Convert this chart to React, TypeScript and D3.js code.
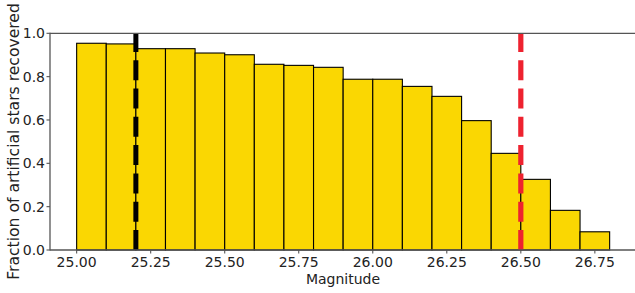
import React from "react";
import * as d3 from "d3";

const binStarts = [25.0, 25.1, 25.2, 25.3, 25.4, 25.5, 25.6, 25.7, 25.8, 25.9, 26.0, 26.1, 26.2, 26.3, 26.4, 26.5, 26.6, 26.7];
const fractions = [0.954, 0.951, 0.929, 0.929, 0.909, 0.901, 0.857, 0.852, 0.843, 0.788, 0.788, 0.755, 0.709, 0.597, 0.446, 0.326, 0.183, 0.084];
const binWidth = 0.1;
const xTicks = [25.0, 25.25, 25.5, 25.75, 26.0, 26.25, 26.5, 26.75];
const yTicks = [0, 0.2, 0.4, 0.6, 0.8, 1.0];
const blackLine = 25.2;
const redLine = 26.5;

const W = 635;
const H = 293;
const FONT = "DejaVu Sans, sans-serif";

export default function App() {
  const x = d3.scaleLinear().domain([24.91, 26.89]).range([50, 636.3]);
  const y = d3.scaleLinear().domain([0, 1]).range([250, 33.3]);
  const spine = "#555";
  return (
    <svg width={W} height={H} style={{ position: "absolute", left: 0, top: 0 }} fontFamily={FONT}>
      <rect width={W} height={H} fill="#fff" />
      {binStarts.map((b, i) => (
        <rect
          key={i}
          x={x(b)}
          y={y(fractions[i])}
          width={x(b + binWidth) - x(b)}
          height={y(0) - y(fractions[i])}
          fill="#FAD702"
          stroke="#000"
          strokeWidth={1.1}
        />
      ))}
      <line x1={x(blackLine)} x2={x(blackLine)} y1={y(0)} y2={y(1)} stroke="#000" strokeWidth={5} strokeDasharray="20 8.3" />
      <line x1={x(redLine)} x2={x(redLine)} y1={y(0)} y2={y(1)} stroke="#EE222F" strokeWidth={5.2} strokeDasharray="20 8.3" />
      {/* spines */}
      <line x1={50} x2={50} y1={y(0) + 0.6} y2={y(1) - 0.6} stroke={spine} strokeWidth={1.3} />
      <line x1={50} x2={W} y1={y(0)} y2={y(0)} stroke={spine} strokeWidth={1.3} />
      <line x1={50} x2={W} y1={y(1)} y2={y(1)} stroke={spine} strokeWidth={1.3} />
      {/* y ticks */}
      {yTicks.map((t) => (
        <g key={t}>
          <line x1={46.5} x2={50} y1={y(t)} y2={y(t)} stroke={spine} strokeWidth={1.1} />
          <text x={45} y={y(t)} dy="0.36em" textAnchor="end" fontSize={14} fill="#222">
            {t.toFixed(1)}
          </text>
        </g>
      ))}
      {/* x ticks */}
      {xTicks.map((t) => (
        <g key={t}>
          <line x1={x(t)} x2={x(t)} y1={250} y2={253.5} stroke={spine} strokeWidth={1.1} />
          <text x={x(t)} y={267} textAnchor="middle" fontSize={14} fill="#222">
            {t.toFixed(2)}
          </text>
        </g>
      ))}
      <text x={343} y={283.5} textAnchor="middle" fontSize={14} fill="#222">
        Magnitude
      </text>
      <text
        transform={`translate(19, 141.5) rotate(-90)`}
        textAnchor="middle"
        fontSize={15.6}
        fill="#222"
      >
        Fraction of artificial stars recovered
      </text>
    </svg>
  );
}
